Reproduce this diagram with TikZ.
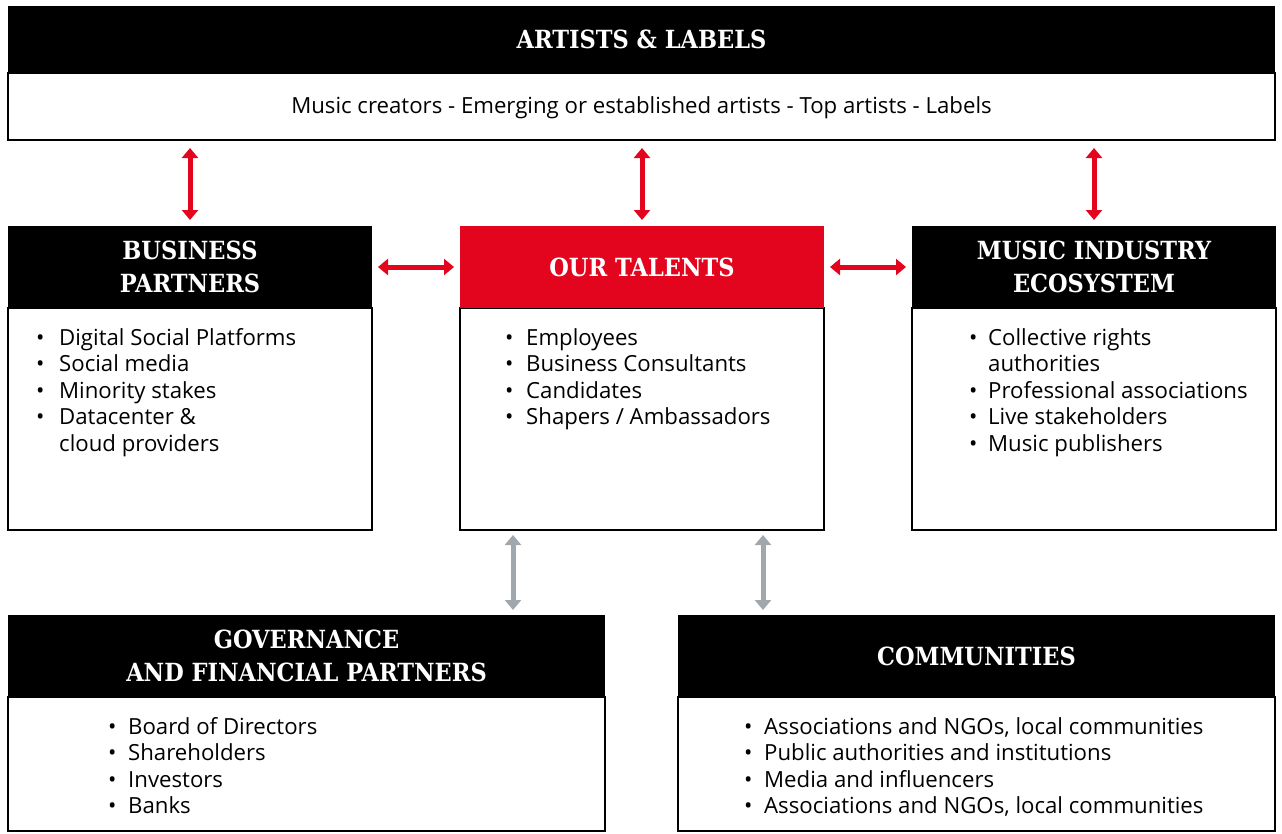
\documentclass[tikz,border=0pt]{standalone}
\usepackage{fontspec}
\setmainfont{Open Sans}
\newfontfamily\titlefont{DejaVu Serif}[FakeStretch=0.9]
\usetikzlibrary{arrows.meta,calc}
\definecolor{kred}{HTML}{E3051E}
\definecolor{kgray}{HTML}{A0A8AD}
\newcommand{\itm}{\makebox[21pt][l]{•}}
\begin{document}
\begin{tikzpicture}[x=1pt,y=-1pt,
  hdr/.style={fill=black, text=white, minimum height=82pt, inner sep=0pt, outer sep=0pt, align=center,
    anchor=north west, font=\titlefont\bfseries\fontsize{25}{33}\selectfont},
  bodybox/.style={draw=black, line width=2pt, inner sep=0pt, outer sep=0pt, anchor=north west},
  lst/.style={anchor=base west, inner sep=0pt, font=\fontsize{22.2}{26.6}\selectfont},
  link/.style={line width=5pt, {Triangle[width=16pt,length=10pt]}-{Triangle[width=16pt,length=10pt]}}]
\useasboundingbox (0,0) rectangle (1282,833);
% top
\node[bodybox, minimum width=1267pt, minimum height=67pt] (artBody) at (8,73) {};
\node[hdr, minimum width=1267pt, minimum height=67pt] (artHead) at (8,6) {ARTISTS \& LABELS};
\node[inner sep=0pt, font=\fontsize{22.2}{26.6}\selectfont] (artText) at ($(artBody.center)+(0,1)$) {Music creators - Emerging or established artists - Top artists - Labels};
% business partners
\node[bodybox, minimum width=364pt, minimum height=222pt] (bpBody) at (8,308) {};
\node[hdr, minimum width=364pt] (bpHead) at (8,226) {BUSINESS\\PARTNERS};
\node[lst] (bpList) at ($(bpBody.north west)+(28,37)$) {\begin{tabular}[t]{@{}l@{}}
\makebox[23pt][l]{•}Digital Social Platforms\\
\makebox[23pt][l]{•}Social media\\
\makebox[23pt][l]{•}Minority stakes\\
\makebox[23pt][l]{•}Datacenter \&\\
\hspace*{23pt}cloud providers\end{tabular}};
% talents
\node[bodybox, minimum width=364pt, minimum height=222pt] (talBody) at (460,308) {};
\node[hdr, fill=kred, minimum width=364pt] (talHead) at (460,226) {OUR TALENTS};
\node[lst] (talList) at ($(talBody.north west)+(45,37)$) {\begin{tabular}[t]{@{}l@{}}
\itm Employees\\
\itm Business Consultants\\
\itm Candidates\\
\itm Shapers / Ambassadors\end{tabular}};
% music industry
\node[bodybox, minimum width=364pt, minimum height=222pt] (musBody) at (912,308) {};
\node[hdr, minimum width=364pt] (musHead) at (912,226) {MUSIC INDUSTRY\\ECOSYSTEM};
\node[lst] (musList) at ($(musBody.north west)+(57,37)$) {\begin{tabular}[t]{@{}l@{}}
\makebox[19pt][l]{•}Collective rights\\
\hspace*{19pt}authorities\\
\makebox[19pt][l]{•}Professional associations\\
\makebox[19pt][l]{•}Live stakeholders\\
\makebox[19pt][l]{•}Music publishers\end{tabular}};
% governance
\node[bodybox, minimum width=597pt, minimum height=134pt] (govBody) at (8,697) {};
\node[hdr, minimum width=597pt] (govHead) at (8,615) {GOVERNANCE\\AND FINANCIAL PARTNERS};
\node[lst] (govList) at ($(govBody.north west)+(100,37)$) {\begin{tabular}[t]{@{}l@{}}
\makebox[20pt][l]{•}Board of Directors\\
\makebox[20pt][l]{•}Shareholders\\
\makebox[20pt][l]{•}Investors\\
\makebox[20pt][l]{•}Banks\end{tabular}};
% communities
\node[bodybox, minimum width=597pt, minimum height=134pt] (comBody) at (678,697) {};
\node[hdr, minimum width=597pt] (comHead) at (678,615) {COMMUNITIES};
\node[lst] (comList) at ($(comBody.north west)+(66,37)$) {\begin{tabular}[t]{@{}l@{}}
\makebox[20pt][l]{•}Associations and NGOs, local communities\\
\makebox[20pt][l]{•}Public authorities and institutions\\
\makebox[20pt][l]{•}Media and influencers\\
\makebox[20pt][l]{•}Associations and NGOs, local communities\end{tabular}};
% red arrows
\draw[link, kred] ($(artBody.south -| bpHead.north)+(0,8)$) -- ($(bpHead.north)+(0,-6)$);
\draw[link, kred] ($(artBody.south -| talHead.north)+(0,8)$) -- ($(talHead.north)+(0,-6)$);
\draw[link, kred] ($(artBody.south -| musHead.north)+(0,8)$) -- ($(musHead.north)+(0,-6)$);
\draw[link, kred] ($(bpHead.east)+(6,0)$) -- ($(talHead.west)+(-6,0)$);
\draw[link, kred] ($(talHead.east)+(6,0)$) -- ($(musHead.west)+(-6,0)$);
% gray arrows
\coordinate (ga1) at ($(talBody.south west)+(53,5)$);
\coordinate (ga2) at ($(ga1 |- govHead.north)+(0,-5)$);
\coordinate (gb1) at ($(talBody.south west)+(303,5)$);
\coordinate (gb2) at ($(gb1 |- comHead.north)+(0,-5)$);
\draw[link, kgray] (ga1) -- (ga2);
\draw[link, kgray] (gb1) -- (gb2);
\end{tikzpicture}
\end{document}
